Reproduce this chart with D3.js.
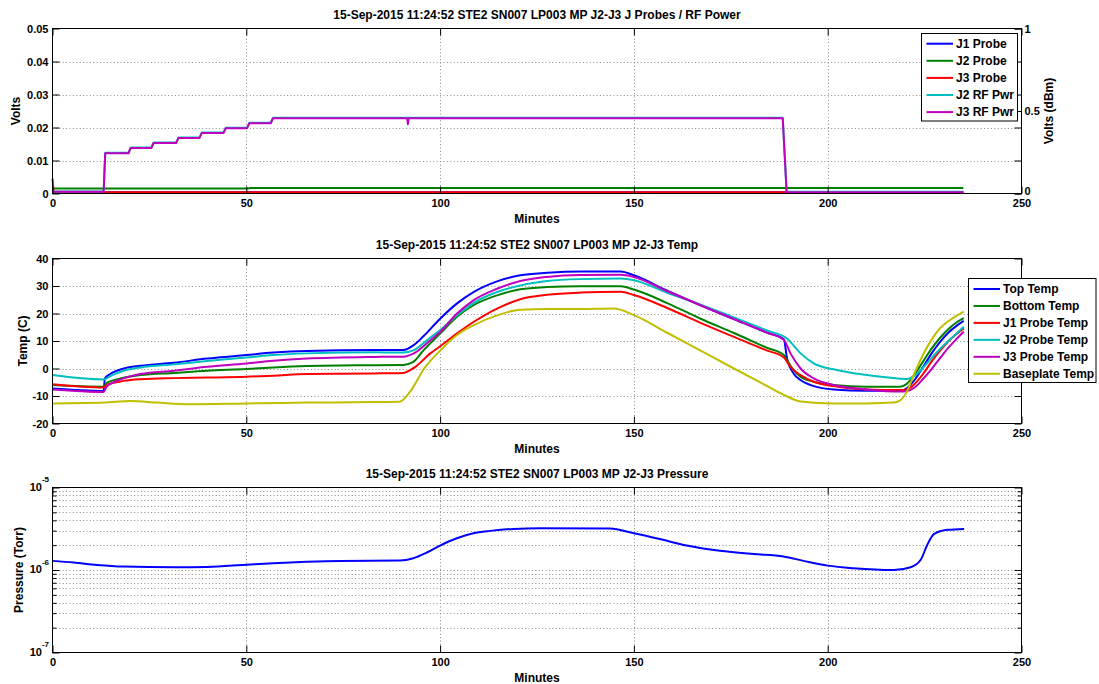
<!DOCTYPE html>
<html><head><meta charset="utf-8">
<script src="https://cdn.jsdelivr.net/npm/d3@7"></script>
<style>
body{margin:0;background:#fff;}
svg{font-family:"Liberation Sans",Arial,Helvetica,sans-serif;font-weight:bold;}
</style></head><body>
<svg id="c" width="1099" height="684"></svg>
<script>
// ---------- data ----------
const xTickVals=[0,50,100,150,200,250];
const voltTickVals=[0,0.01,0.02,0.03,0.04,0.05];
const dbmTickVals=[0,0.5,1];
const tempTickVals=[-20,-10,0,10,20,30,40];
const presMajorVals=[1e-7,1e-6,1e-5];
const presMajorExp=["-7","-6","-5"];

const titleBase="15-Sep-2015 11:24:52 STE2 SN007 LP003 MP J2-J3";
const titles=[titleBase+" J Probes / RF Power",titleBase+" Temp",titleBase+" Pressure"];

const probeNames=["J1 Probe","J2 Probe","J3 Probe","J2 RF Pwr","J3 RF Pwr"];
const tempNames=["Top Temp","Bottom Temp","J1 Probe Temp","J2 Probe Temp","J3 Probe Temp","Baseplate Temp"];

// Probe voltages (left axis, Volts)
const probeTime=[0,0.3,13.4,13.6,50.5,51,235];
const j1Probe=[0.0002,0.0002,0.0002,0.0004,0.0004,0.0004,0.0004];
const j2Probe=[0.0015,0.0015,0.0015,0.0015,0.0015,0.0017,0.0017];
const j3Probe=[0.0045,0.0004,0.0004,0.0004,0.0004,0.0004,0.0004];

// RF power (right axis)
const rfTime=[0,13.2,13.6,19.6,20.2,25.5,26.1,31.9,32.5,37.9,38.5,44.1,44.7,50.2,50.8,56.3,56.9,91.5,91.7,91.9,188.4,189.4,235];
const j2RfPwr=[0.012,0.012,0.247,0.247,0.279,0.279,0.309,0.309,0.339,0.339,0.369,0.369,0.399,0.399,0.429,0.429,0.459,0.459,0.459,0.459,0.459,0.010,0.010];
const j3RfPwr=[0.010,0.010,0.244,0.244,0.276,0.276,0.306,0.306,0.336,0.336,0.366,0.366,0.396,0.396,0.426,0.426,0.456,0.456,0.420,0.456,0.456,0.008,0.008];

// Temperatures [minute, degC]
const topTemp=[[0,-7.3],[13.2,-8.2],[13.5,-3.6],[14.9,-2.0],[18.4,0.0],[22.7,1.0],[31.3,2.1],[39.9,3.6],[50,4.9],[57,5.8],[65.6,6.4],[82.8,6.7],[90.5,6.7],[93.1,8.4],[95.7,11.7],[100,18.1],[104.3,23.6],[108.6,27.8],[114.7,31.7],[120.7,33.9],[127.6,34.8],[136.2,35.3],[146.6,35.3],[150,33.9],[158.6,28.3],[167.2,23.0],[175.8,18.0],[184.4,13.0],[188.7,10.6],[189.5,3.7],[191.2,-1.8],[193,-4.2],[196.4,-6.4],[201.5,-7.6],[210.1,-8.1],[218.7,-8.1],[220.4,-7.2],[222.5,-4.0],[224.6,0.5],[226.8,5.5],[228.9,9.5],[231.1,13.0],[233.3,15.6],[235.1,17.3]];
const bottomTemp=[[0,-6.0],[13.2,-6.6],[14.0,-5.2],[18.4,-3.4],[22.7,-2.4],[31.3,-1.6],[39.9,-0.8],[50,-0.2],[57,0.4],[65.6,0.9],[82.8,1.2],[90.5,1.3],[93.1,2.4],[95.7,6.6],[100,12.7],[104.3,18.7],[108.6,23.0],[114.7,26.6],[120.7,28.8],[127.6,29.6],[136.2,29.9],[146.6,29.9],[150,28.7],[158.6,23.8],[167.2,18.1],[175.8,12.9],[184.4,7.5],[188.7,4.9],[189.5,3.1],[191.2,-0.6],[193,-3.0],[196.4,-4.8],[201.5,-6.0],[210.1,-6.6],[218.7,-6.6],[220.4,-5.6],[222.5,-2.0],[224.6,2.5],[226.8,7.2],[228.9,11.0],[231.1,14.3],[233.3,16.8],[235.1,18.3]];
const j1Temp=[[0,-5.7],[13.2,-6.9],[14.0,-6.0],[18.4,-4.5],[22.7,-3.9],[31.3,-3.5],[39.9,-3.3],[50,-3.0],[57,-2.6],[65.6,-2.0],[82.8,-1.8],[90.5,-1.6],[93.5,0.5],[97.4,5.4],[100,8.1],[104.3,12.7],[108.6,16.9],[114.7,21.8],[120.7,25.2],[127.6,26.8],[136.2,27.6],[146.6,27.9],[150,26.7],[158.6,22.0],[167.2,16.6],[175.8,11.5],[184.4,6.5],[188.7,4.0],[190.4,0.6],[193,-2.4],[196.4,-4.8],[201.5,-6.4],[210.1,-7.6],[218.7,-7.8],[220.4,-7.6],[222.5,-5.5],[224.6,-2.0],[226.8,2.5],[228.9,6.3],[231.1,9.8],[233.3,12.6],[235.1,14.6]];
const j2Temp=[[0,-2.4],[13.2,-4.0],[15.4,-2.4],[18.4,-0.8],[22.7,0.4],[31.3,1.5],[39.9,2.7],[50,4.0],[57,4.9],[65.6,5.5],[82.8,5.9],[90.5,5.8],[93.1,6.6],[97.4,11.2],[100,13.9],[104.3,19.3],[108.6,23.8],[114.7,27.8],[120.7,30.2],[127.6,31.8],[136.2,32.5],[146.6,32.7],[150,32.1],[158.6,27.5],[167.2,23.2],[175.8,18.6],[184.4,13.8],[189.5,10.9],[193,5.5],[196.4,1.9],[201.5,-0.3],[210.1,-2.4],[218.7,-3.7],[220.4,-3.8],[222.5,-2.5],[224.6,0.3],[226.8,3.8],[228.9,7.0],[231.1,10.0],[233.3,12.8],[235.1,15.2]];
const j3Temp=[[0,-7.6],[13.2,-8.5],[14.0,-6.6],[18.4,-3.6],[22.7,-2.0],[31.3,-0.8],[39.9,0.6],[50,1.8],[57,2.8],[65.6,3.6],[82.8,4.2],[90.5,4.3],[93.1,5.4],[97.4,10.2],[100,13.3],[104.3,19.9],[108.6,24.8],[114.7,29.0],[120.7,31.8],[127.6,33.3],[136.2,34.0],[146.6,34.1],[150,33.3],[158.6,28.1],[167.2,23.0],[175.8,18.0],[184.4,13.0],[188.7,10.4],[190.4,5.5],[193,0.0],[196.4,-3.6],[201.5,-6.0],[210.1,-7.6],[218.7,-8.4],[220.4,-8.2],[222.5,-6.8],[224.6,-3.8],[226.8,-0.2],[228.9,3.6],[231.1,7.5],[233.3,10.8],[235.1,13.4]];
const baseTemp=[[0,-12.7],[13.3,-12.4],[20.1,-11.8],[27,-12.4],[35.6,-13.0],[50,-12.7],[65.6,-12.4],[82.8,-12.2],[89.5,-12.1],[92.2,-8.5],[95.9,0.0],[100,6.5],[104.3,12.1],[108.6,15.7],[114.7,19.3],[120.7,21.4],[127.6,21.6],[136.2,21.6],[144.8,21.8],[150,19.4],[158.6,13.0],[167.2,6.5],[175.8,0.0],[184.4,-6.4],[188.7,-9.6],[193,-12.0],[201.5,-12.7],[210,-12.7],[217,-12.4],[218.5,-11.8],[220.4,-8.5],[222.3,-2.0],[224.6,5.0],[226.8,10.5],[228.9,14.5],[231.1,17.2],[233.3,19.2],[235.1,20.7]];

// Pressure [minute, Torr]
const pressure=[[0,1.29e-6],[5.5,1.23e-6],[11.5,1.15e-6],[18.4,1.10e-6],[31.3,1.08e-6],[39.9,1.09e-6],[50,1.16e-6],[57,1.21e-6],[65.6,1.26e-6],[74.2,1.29e-6],[89.7,1.30e-6],[93.1,1.39e-6],[96.6,1.63e-6],[100,1.98e-6],[104.3,2.43e-6],[108.6,2.79e-6],[112.9,2.98e-6],[118.9,3.15e-6],[125.8,3.2e-6],[143.8,3.18e-6],[150,2.79e-6],[156.7,2.37e-6],[163.6,1.98e-6],[172.2,1.71e-6],[180.9,1.56e-6],[188.6,1.46e-6],[193.8,1.29e-6],[200,1.13e-6],[206.7,1.05e-6],[217.1,1.0e-6],[221.4,1.08e-6],[224,1.33e-6],[225.7,2.02e-6],[227.4,2.72e-6],[230.9,3.07e-6],[235.2,3.15e-6]];

// ---------- drawing ----------
const C={blue:"#0000ff",green:"#008000",red:"#ff0000",cyan:"#00bfbf",mag:"#bf00bf",yel:"#bfbf00"};
const FONT='"Liberation Sans",Arial,Helvetica,sans-serif';
const svg=d3.select("#c");
const L=52.5,R=1021.5;
const x=d3.scaleLinear().domain([0,250]).range([L,R]);
const panels=[{top:28.5,bottom:193.5},{top:258.5,bottom:423.5},{top:487.5,bottom:652.5}];

function styleAxis(g,size){
  g.select(".domain").remove();
  g.attr("font-family",FONT).attr("font-weight","bold").attr("font-size",size||11);
  g.selectAll("text").attr("fill","#000");
}
function gridLines(p,yVals,y){
  const gg=svg.append("g").attr("stroke","#8a8a8a").attr("stroke-width",1).attr("stroke-dasharray","1,2.4");
  gg.selectAll("line.v").data(xTickVals.slice(1,-1)).join("line")
    .attr("x1",d=>Math.round(x(d))+0.5).attr("x2",d=>Math.round(x(d))+0.5).attr("y1",p.top).attr("y2",p.bottom);
  gg.selectAll("line.h").data(yVals).join("line")
    .attr("x1",L).attr("x2",R).attr("y1",d=>Math.round(y(d))+0.5).attr("y2",d=>Math.round(y(d))+0.5);
}
function xAxes(p){
  svg.append("g").attr("transform",`translate(0,${p.bottom})`)
    .call(d3.axisBottom(x).tickValues(xTickVals).tickSize(-7).tickPadding(6).tickFormat(d=>String(d)))
    .call(g=>styleAxis(g,11));
  svg.append("g").attr("transform",`translate(0,${p.top})`)
    .call(d3.axisTop(x).tickValues(xTickVals).tickSize(-7).tickFormat(""))
    .call(g=>styleAxis(g));
  svg.append("text").attr("x",(L+R)/2).attr("y",p.bottom+29.5).attr("text-anchor","middle")
    .attr("font-size",12).text("Minutes");
}
function titleText(p,t){
  svg.append("text").attr("x",(L+R)/2).attr("y",p.top-9.5).attr("text-anchor","middle")
    .attr("font-size",12).text(t);
}
function yLabel(p,xPos,t){
  svg.append("text").attr("transform",`translate(${xPos},${(p.top+p.bottom)/2}) rotate(-90)`)
    .attr("text-anchor","middle").attr("font-size",12).text(t);
}
function box(p){
  svg.append("rect").attr("x",L).attr("y",p.top).attr("width",R-L).attr("height",p.bottom-p.top)
    .attr("fill","none").attr("stroke","#000").attr("stroke-width",1);
}
function legend(x0,y0,w,h,rows,items){
  const g=svg.append("g");
  g.append("rect").attr("x",x0).attr("y",y0).attr("width",w).attr("height",h)
    .attr("fill","#fff").attr("stroke","#000").attr("stroke-width",1);
  items.forEach((it,i)=>{
    const yy=rows[0]+i*rows[1];
    g.append("line").attr("x1",x0+5).attr("x2",x0+31.5).attr("y1",yy).attr("y2",yy)
      .attr("stroke",it.c).attr("stroke-width",2);
    g.append("text").attr("x",x0+34.5).attr("y",yy+4.3).attr("font-size",12).text(it.n);
  });
}

// ===== Panel 1 =====
{
  const p=panels[0];
  const y=d3.scaleLinear().domain([0,0.05]).range([p.bottom,p.top]);
  const yR=d3.scaleLinear().domain([0,1]).range([p.bottom,p.top]);
  gridLines(p,voltTickVals.slice(1,-1),y);
  const line=d3.line().x(d=>x(d[0])).y(d=>d[2](d[1]));
  const mk=(vals,times,sc)=>vals.map((v,i)=>[times[i],v,sc]);
  const series=[
    {d:mk(j1Probe,probeTime,y),c:C.blue},{d:mk(j2Probe,probeTime,y),c:C.green},{d:mk(j3Probe,probeTime,y),c:C.red},
    {d:mk(j2RfPwr,rfTime,yR),c:C.cyan},{d:mk(j3RfPwr,rfTime,yR),c:C.mag}];
  series.forEach(s=>svg.append("path").attr("d",line(s.d)).attr("fill","none")
    .attr("stroke",s.c).attr("stroke-width",2).attr("stroke-linejoin","round"));
  svg.append("g").attr("transform",`translate(${L},0)`)
    .call(d3.axisLeft(y).tickValues(voltTickVals).tickSize(-7).tickPadding(4).tickFormat(d=>d===0?"0":d.toFixed(2)))
    .call(g=>styleAxis(g,11));
  svg.append("g").attr("transform",`translate(${R},0)`)
    .call(d3.axisRight(y).tickValues(voltTickVals).tickSize(-7).tickFormat(""))
    .call(g=>styleAxis(g));
  svg.append("g").attr("transform",`translate(${R},0)`)
    .call(d3.axisRight(yR).tickValues(dbmTickVals).tickSize(-7).tickPadding(3).tickFormat(d=>String(d)))
    .call(g=>{styleAxis(g,11); g.selectAll("text").filter(d=>d===0).attr("dy","0.1em");});
  xAxes(p); box(p); titleText(p,titles[0]);
  yLabel(p,19.5,"Volts");
  svg.append("text").attr("transform",`translate(1053,${(p.top+p.bottom)/2}) rotate(-90)`)
    .attr("text-anchor","middle").attr("font-size",12).text("Volts (dBm)");
  const cols=[C.blue,C.green,C.red,C.cyan,C.mag];
  legend(921.5,33.5,96,87.5,[43.7,17.1],probeNames.map((n,i)=>({n,c:cols[i]})));
}

// ===== Panel 2 =====
{
  const p=panels[1];
  const y=d3.scaleLinear().domain([-20,40]).range([p.bottom,p.top]);
  gridLines(p,tempTickVals.slice(1,-1),y);
  const line=d3.line().x(d=>x(d[0])).y(d=>y(d[1])).curve(d3.curveMonotoneX);
  const series=[topTemp,bottomTemp,j1Temp,j2Temp,j3Temp,baseTemp];
  const cols=[C.blue,C.green,C.red,C.cyan,C.mag,C.yel];
  series.forEach((s,i)=>svg.append("path").attr("d",line(s)).attr("fill","none")
    .attr("stroke",cols[i]).attr("stroke-width",2).attr("stroke-linejoin","round"));
  svg.append("g").attr("transform",`translate(${L},0)`)
    .call(d3.axisLeft(y).tickValues(tempTickVals).tickSize(-7).tickPadding(4).tickFormat(d=>String(d)))
    .call(g=>styleAxis(g,11));
  svg.append("g").attr("transform",`translate(${R},0)`)
    .call(d3.axisRight(y).tickValues(tempTickVals).tickSize(-7).tickFormat(""))
    .call(g=>styleAxis(g));
  xAxes(p); box(p); titleText(p,titles[1]);
  yLabel(p,27,"Temp (C)");
  legend(968.5,278.5,127.5,104,[289,16.95],tempNames.map((n,i)=>({n,c:cols[i]})));
}

// ===== Panel 3 =====
{
  const p=panels[2];
  const y=d3.scaleLog().domain([1e-7,1e-5]).range([p.bottom,p.top]);
  const allTicks=y.ticks();
  const minor=allTicks.filter(t=>!presMajorVals.some(m=>Math.abs(m-t)/m<1e-6));
  gridLines(p,allTicks.filter(t=>t>1.01e-7&&t<0.99e-5),y);
  const line=d3.line().x(d=>x(d[0])).y(d=>y(d[1])).curve(d3.curveMonotoneX);
  svg.append("path").attr("d",line(pressure)).attr("fill","none")
    .attr("stroke",C.blue).attr("stroke-width",2).attr("stroke-linejoin","round");
  [[d3.axisLeft,L],[d3.axisRight,R]].forEach(([ax,pos])=>{
    svg.append("g").attr("transform",`translate(${pos},0)`)
      .call(ax(y).tickValues(presMajorVals).tickSize(-7).tickFormat(""))
      .call(g=>styleAxis(g));
    svg.append("g").attr("transform",`translate(${pos},0)`)
      .call(ax(y).tickValues(minor).tickSize(-4).tickFormat(""))
      .call(g=>styleAxis(g));
  });
  presMajorVals.forEach((v,i)=>{
    const t=svg.append("text").attr("x",49).attr("y",y(v)+3).attr("text-anchor","end").attr("font-size",11);
    t.append("tspan").text("10");
    t.append("tspan").attr("dy",-8.5).attr("font-size",8).text(presMajorExp[i]);
  });
  xAxes(p); box(p); titleText(p,titles[2]);
  yLabel(p,22.5,"Pressure (Torr)");
}
</script>
</body></html>
